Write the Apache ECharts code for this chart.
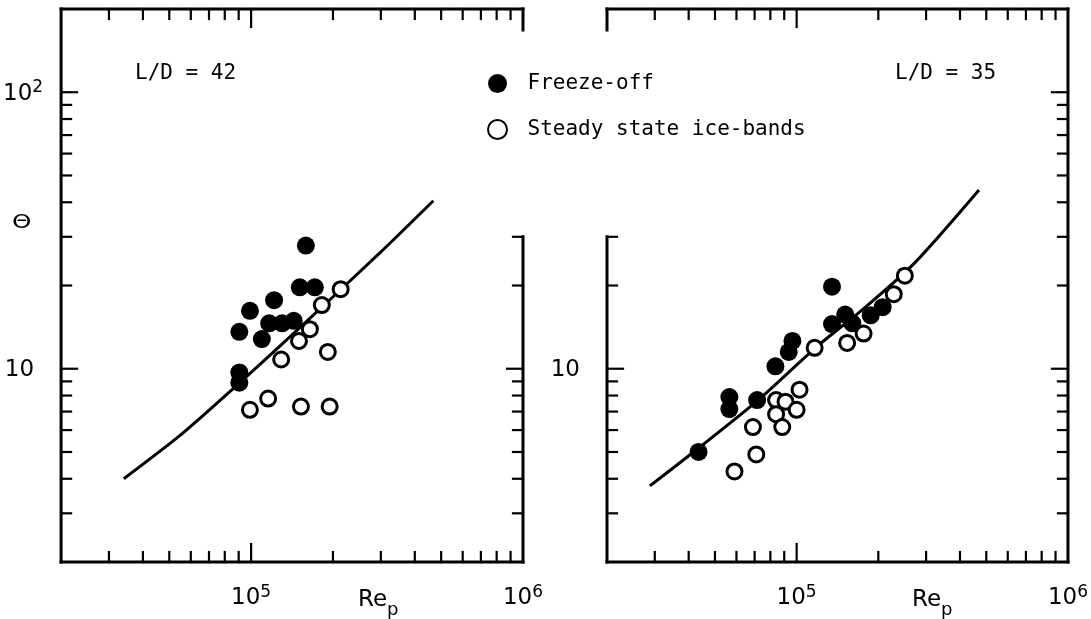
<!DOCTYPE html>
<html>
<head>
<meta charset="utf-8">
<script src="https://cdn.jsdelivr.net/npm/echarts@6/dist/echarts.min.js"></script>
<style>
  html, body { margin: 0; padding: 0; background: #fff; }
  #chart { width: 1091px; height: 619px; }
</style>
</head>
<body>
<div id="chart"></div>
<script>
// Shared log-log frame for both panels
const reRange = [2e4, 1e6];
const thetaRange = [2, 200];

// Tick positions along the frame
const reMinorTicks = [3e4, 4e4, 5e4, 6e4, 7e4, 8e4, 9e4, 2e5, 3e5, 4e5, 5e5, 6e5, 7e5, 8e5, 9e5];
const reMajorTicks = [1e5];
const thetaMinorTicks = [3, 4, 5, 6, 7, 8, 9, 20, 30, 40, 50, 60, 70, 80, 90];
const thetaMajorTicks = [10, 100];
const reLabelValues = [1e5, 1e6];
const thetaLabelsLeft = [10, 100];
const thetaLabelsRight = [10];
const spineBreakTheta = 30; // inner spines resume below this value

// L/D = 42 : [Re_p, theta]
const freezeOff42 = [
  [159000, 27.9], [151000, 19.7], [171500, 19.7], [121500, 17.7], [99000, 16.2],
  [90500, 13.6], [116500, 14.6], [130000, 14.6], [143500, 14.9], [109500, 12.8],
  [90500, 9.7], [90500, 8.9]
];
const steady42 = [
  [213500, 19.4], [182000, 17.0], [164500, 13.9], [150000, 12.6], [191500, 11.5],
  [129000, 10.8], [115500, 7.8], [99000, 7.1], [152500, 7.3], [194500, 7.3]
];
const fit42 = [[34000, 4.0], [55500, 5.8], [92000, 9.0], [152500, 14.2], [299500, 26.4], [468000, 40.5]];

// L/D = 35 : [Re_p, theta]
const freezeOff35 = [
  [135000, 19.8], [135000, 14.5], [151000, 15.7], [160500, 14.6], [187500, 15.6],
  [207500, 16.7], [96500, 12.6], [93500, 11.5], [83500, 10.2], [56500, 7.9],
  [56500, 7.15], [71500, 7.7], [43500, 5.0]
];
const steady35 = [
  [250500, 21.7], [228000, 18.6], [176500, 13.4], [153500, 12.4], [116500, 11.9],
  [102500, 8.4], [84000, 7.7], [91000, 7.6], [84000, 6.85], [100000, 7.1],
  [88500, 6.15], [69000, 6.15], [71000, 4.9], [59000, 4.25]
];
const fit35 = [[28800, 3.77], [42400, 5.06], [71000, 7.6], [118500, 12.0], [178000, 16.6], [273000, 24.2], [470000, 44.3]];

const MONO = '"DejaVu Sans Mono", monospace';
const NUM = '"DejaVu Sans", sans-serif';

const labelRich = {
  b: { fontFamily: NUM, fontSize: 23, color: '#000', lineHeight: 26, verticalAlign: 'bottom' },
  s: { fontFamily: NUM, fontSize: 17, color: '#000', lineHeight: 26, verticalAlign: 'top' },
  pad: { width: 9 }
};

function powerLabel(allowed) {
  return function (v) {
    if (!allowed.some(a => Math.abs(a - v) / a < 1e-6)) return '';
    const e = Math.round(Math.log10(v));
    return e === 1 ? '{b|10}{pad|}' : '{b|10}{s|' + e + '}';
  };
}

const SPINE = 3, TICK = 2.2;
const MINOR = 10, MAJOR = 18;

// Frame with inward ticks; one vertical spine may be interrupted near the legend
function frameRenderer(brokenSide) {
  return function (params, api) {
    const bl = api.coord([reRange[0], thetaRange[0]]);
    const tr = api.coord([reRange[1], thetaRange[1]]);
    const x0 = bl[0], y0 = bl[1], x1 = tr[0], y1 = tr[1];
    const resumeY = api.coord([reRange[0], spineBreakTheta])[1];
    const kids = [];
    const seg = (ax, ay, bx, by, w) => kids.push({
      type: 'line', shape: { x1: ax, y1: ay, x2: bx, y2: by },
      style: { stroke: '#000', lineWidth: w, lineCap: 'square' }
    });
    seg(x0, y0, x1, y0, SPINE);
    seg(x0, y1, x1, y1, SPINE);
    if (brokenSide === 'left') {
      seg(x0, y1, x0, y1 + MAJOR + 3, SPINE);
      seg(x0, resumeY, x0, y0, SPINE);
    } else {
      seg(x0, y1, x0, y0, SPINE);
    }
    if (brokenSide === 'right') {
      seg(x1, y1, x1, y1 + MAJOR + 3, SPINE);
      seg(x1, resumeY, x1, y0, SPINE);
    } else {
      seg(x1, y1, x1, y0, SPINE);
    }
    const xTick = (v, len) => {
      const px = api.coord([v, thetaRange[0]])[0];
      seg(px, y0, px, y0 - len, TICK);
      seg(px, y1, px, y1 + len, TICK);
    };
    reMinorTicks.forEach(v => xTick(v, MINOR));
    reMajorTicks.forEach(v => xTick(v, MAJOR));
    const yTick = (v, len) => {
      const py = api.coord([reRange[0], v])[1];
      if (brokenSide !== 'left' || v <= spineBreakTheta) seg(x0, py, x0 + len, py, TICK);
      if (brokenSide !== 'right' || v <= spineBreakTheta) seg(x1, py, x1 - len, py, TICK);
    };
    thetaMinorTicks.forEach(v => yTick(v, MINOR));
    thetaMajorTicks.forEach(v => yTick(v, MAJOR - 2));
    return { type: 'group', children: kids };
  };
}

function xAxisFor(gridIndex) {
  return {
    type: 'log', logBase: 10, gridIndex, min: reRange[0], max: reRange[1],
    axisLine: { show: false }, axisTick: { show: false }, splitLine: { show: false },
    axisLabel: {
      formatter: powerLabel(reLabelValues), rich: labelRich, margin: 22,
      showMinLabel: true, showMaxLabel: true, hideOverlap: false
    }
  };
}
function yAxisFor(gridIndex, labels) {
  return {
    type: 'log', logBase: 10, gridIndex, min: thetaRange[0], max: thetaRange[1],
    axisLine: { show: false }, axisTick: { show: false }, splitLine: { show: false },
    axisLabel: {
      formatter: powerLabel(labels), rich: labelRich, margin: 18,
      showMinLabel: true, showMaxLabel: true, hideOverlap: false
    }
  };
}

const filledStyle = { color: '#000', opacity: 1 };
const openStyle = { color: '#fff', borderColor: '#000', borderWidth: 3, opacity: 1 };

function scatter(name, data, idx, style, size) {
  return {
    type: 'scatter', name, data, xAxisIndex: idx, yAxisIndex: idx,
    symbol: 'circle', symbolSize: size, itemStyle: style, z: 4,
    emphasis: { disabled: true }
  };
}
function fitLine(data, idx) {
  return {
    type: 'line', data, xAxisIndex: idx, yAxisIndex: idx, showSymbol: false,
    smooth: 0.25, lineStyle: { color: '#000', width: 3 }, z: 2, silent: true,
    emphasis: { disabled: true }
  };
}
function frame(idx, brokenSide) {
  return {
    type: 'custom', coordinateSystem: 'cartesian2d', xAxisIndex: idx, yAxisIndex: idx,
    data: [[reRange[0], thetaRange[0]]], renderItem: frameRenderer(brokenSide),
    silent: true, z: 3, clip: false
  };
}

const subscriptRich = {
  r: { fontFamily: NUM, fontSize: 23, fill: '#000', lineHeight: 30, verticalAlign: 'top' },
  p: { fontFamily: NUM, fontSize: 18, fill: '#000', lineHeight: 30, verticalAlign: 'bottom' }
};

const chart = echarts.init(document.getElementById('chart'), null, { renderer: 'canvas' });
chart.setOption({
  animation: false,
  backgroundColor: '#fff',
  grid: [
    { left: 61, top: 9, width: 462, height: 553 },
    { left: 607, top: 9, width: 461, height: 553 }
  ],
  xAxis: [xAxisFor(0), xAxisFor(1)],
  yAxis: [yAxisFor(0, thetaLabelsLeft), yAxisFor(1, thetaLabelsRight)],
  legend: {
    orient: 'vertical', left: 482, top: 68,
    itemWidth: 50, itemHeight: 19, itemGap: 25,
    selectedMode: false,
    data: ['Freeze-off', 'Steady state ice-bands'],
    itemStyle: { opacity: 1 },
    textStyle: { fontFamily: MONO, fontSize: 21, color: '#000', lineHeight: 21 }
  },
  graphic: [
    { type: 'text', left: 135, top: 63, style: { text: 'L/D = 42', font: '21px ' + MONO, fill: '#000' } },
    { type: 'text', left: 895, top: 63, style: { text: 'L/D = 35', font: '21px ' + MONO, fill: '#000' } },
    { type: 'text', left: 12, top: 214, scaleX: 1.3,
      style: { text: 'Θ', font: '19px "DejaVu Sans", sans-serif', fill: '#000' } },
    { type: 'text', left: 358, top: 589, style: { text: '{r|Re}{p|p}', rich: subscriptRich } },
    { type: 'text', left: 912, top: 589, style: { text: '{r|Re}{p|p}', rich: subscriptRich } }
  ],
  series: [
    fitLine(fit42, 0),
    fitLine(fit35, 1),
    frame(0, 'right'),
    frame(1, 'left'),
    scatter('Freeze-off', freezeOff42, 0, filledStyle, 18),
    scatter('Steady state ice-bands', steady42, 0, openStyle, 15),
    scatter('Freeze-off', freezeOff35, 1, filledStyle, 18),
    scatter('Steady state ice-bands', steady35, 1, openStyle, 15)
  ]
});
</script>
</body>
</html>
